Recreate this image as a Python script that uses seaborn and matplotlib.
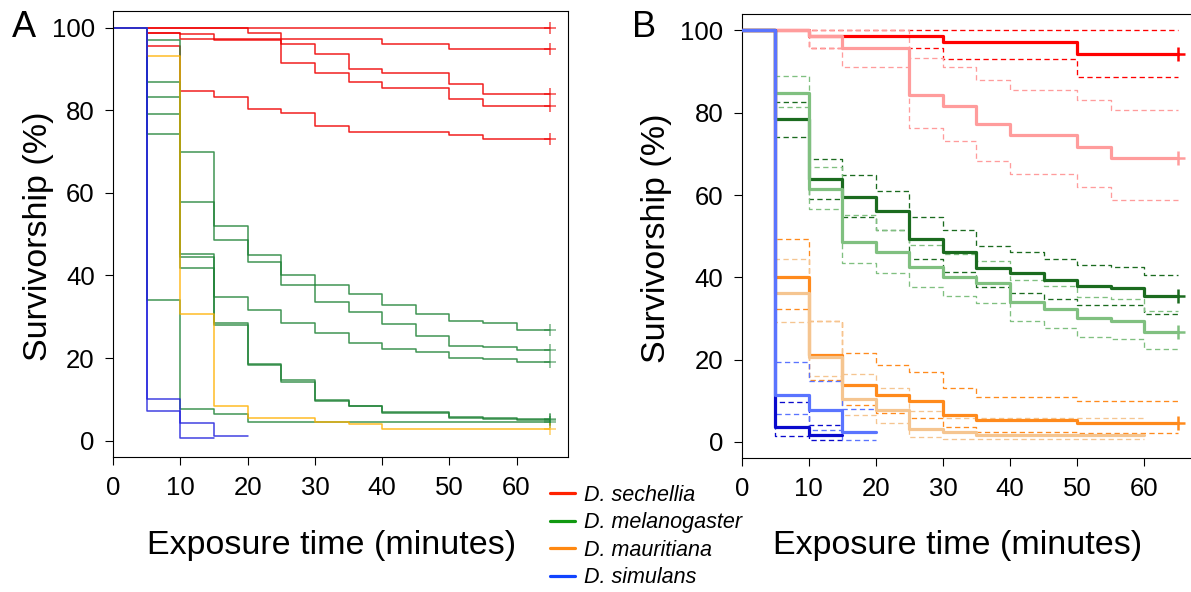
import matplotlib
matplotlib.use("Agg")
import matplotlib.pyplot as plt
from matplotlib.lines import Line2D
import pandas as pd
import seaborn as sns

# exposure times (minutes) at which survivorship was scored
times = [0, 5, 10, 15, 20, 25, 30, 35, 40, 45, 50, 55, 60]

# ---- panel A: single replicates, survivorship (%) at each time ----
sech_reps = [
    [100, 100, 100, 100, 100, 100, 100, 100, 100, 100, 100, 100, 100],
    [100, 98.8, 97.3, 97.3, 97.3, 97.3, 97.3, 97.3, 96.1, 96.1, 94.9, 94.9, 94.9],
    [100, 100, 100, 100, 98.8, 96.1, 93.7, 89.9, 89.0, 89.0, 86.3, 83.9, 83.9],
    [100, 98.8, 98.4, 97.1, 97.1, 91.3, 89.0, 86.8, 85.4, 85.4, 82.6, 81.0, 81.0],
    [100, 95.5, 84.7, 83.1, 80.2, 79.2, 76.1, 74.7, 74.7, 74.7, 73.9, 73.1, 73.1],
]
mel_reps = [
    [100, 96.9, 69.8, 52.0, 44.9, 40.2, 37.8, 35.5, 32.8, 30.8, 29.0, 28.6, 26.8],
    [100, 86.8, 57.7, 48.5, 43.3, 37.7, 33.6, 31.2, 28.2, 25.3, 22.9, 22.6, 21.9],
    [100, 83.1, 45.3, 34.7, 31.6, 28.6, 26.2, 23.6, 22.1, 21.5, 20.1, 19.7, 19.1],
    [100, 79.0, 44.4, 28.4, 18.7, 14.7, 9.8, 8.5, 7.0, 7.0, 5.8, 5.4, 5.2],
    [100, 74.2, 41.9, 28.0, 18.3, 14.3, 9.6, 8.3, 6.8, 6.8, 5.6, 5.2, 5.0],
    [100, 34.0, 7.8, 6.5, 4.6, 4.6, 4.6, 4.6, 4.6, 4.6, 4.6, 4.6, 4.6],
]
maur_reps = [
    [100, 93.0, 30.8, 8.4, 5.4, 5.4, 4.6, 4.0, 2.8, 2.8, 2.8, 2.8, 2.8],
]
sim_reps = [
    [100, 10.0, 4.4, 1.1],
    [100, 7.3, 0.6],
]
sim_rep_ends = [20, 15]

# ---- panel B: pooled curves with 95% CI (dark and light strain of each species) ----
sech_dark = [100, 100, 98.6, 98.6, 98.6, 98.6, 97.2, 97.2, 97.2, 97.2, 94.2, 94.2, 94.2]
sech_dark_hi = [100, 100, 100, 100, 100, 100, 100, 100, 100, 100, 100, 100, 100]
sech_dark_lo = [100, 100, 95.8, 95.8, 95.8, 95.8, 93.1, 93.1, 93.1, 93.1, 88.7, 88.7, 88.7]
sech_light = [100, 100, 98.6, 95.8, 95.8, 84.3, 81.6, 77.3, 74.5, 74.5, 71.7, 69.1, 69.1]
sech_light_hi = [100, 100, 100, 100, 100, 93.4, 91.2, 87.9, 85.5, 85.5, 83.1, 80.6, 80.6]
sech_light_lo = [100, 100, 95.8, 91.2, 91.2, 76.4, 73.1, 68.3, 65.0, 65.0, 61.9, 58.8, 58.8]

mel_dark = [100, 78.5, 63.8, 59.6, 56.0, 49.4, 46.2, 42.2, 41.0, 39.3, 37.9, 37.3, 35.5]
mel_dark_hi = [100, 82.6, 68.8, 64.8, 61.1, 54.7, 51.5, 47.5, 46.1, 44.5, 42.9, 42.5, 40.5]
mel_dark_lo = [100, 74.2, 59.1, 54.6, 51.5, 44.5, 41.4, 37.6, 36.3, 34.7, 33.2, 33.2, 31.0]
mel_light = [100, 84.9, 61.5, 48.6, 46.2, 42.4, 40.1, 38.5, 34.0, 32.2, 30.0, 29.4, 26.7]
mel_light_hi = [100, 88.9, 66.9, 55.1, 51.5, 47.8, 45.6, 44.0, 39.3, 37.9, 35.3, 34.7, 31.8]
mel_light_lo = [100, 81.5, 56.5, 43.6, 41.1, 37.7, 35.5, 33.7, 29.4, 27.8, 25.6, 24.9, 22.5]

maur_dark = [100, 40.1, 21.1, 13.8, 11.4, 10.0, 6.6, 5.3, 5.3, 5.3, 4.5, 4.5, 4.5]
maur_dark_hi = [100, 49.4, 29.4, 21.5, 18.7, 16.9, 13.0, 10.9, 10.9, 10.9, 10.0, 10.0, 10.0]
maur_dark_lo = [100, 32.2, 15.0, 8.9, 7.1, 5.8, 3.5, 2.5, 2.5, 2.5, 2.1, 2.1, 2.1]
maur_light = [100, 36.1, 20.6, 10.4, 7.8, 3.1, 2.3, 1.6, 1.6, 1.6, 1.6, 1.6]
maur_light_hi = [100, 44.5, 29.4, 16.4, 13.2, 7.5, 5.8, 5.7, 5.7, 5.7, 5.7, 5.7]
maur_light_lo = [100, 29.1, 15.9, 6.5, 4.5, 1.3, 0.7, 0.7, 0.7, 0.7, 0.7, 0.7]

sim_dark = [100, 3.6, 1.6]
sim_dark_hi = [100, 9.8, 4.1]
sim_dark_lo = [100, 1.5, 0.5]
sim_light = [100, 11.3, 7.8, 2.3]
sim_light_hi = [100, 19.3, 14.8, 7.9]
sim_light_lo = [100, 6.7, 3.0, 0.5]

species = ["D. sechellia", "D. melanogaster", "D. mauritiana", "D. simulans"]
legend_colors = ["#ff2200", "#119911", "#ff8811", "#1144ff"]


def step_line(ax, vals, end, color, lw, alpha=1.0, ls="-", z=2):
    t = times[:len(vals)] + [end]
    v = list(vals) + [vals[-1]]
    df = pd.DataFrame({"time": t, "surv": v})
    sns.lineplot(data=df, x="time", y="surv", ax=ax, color=color, linewidth=lw,
                 alpha=alpha, linestyle=ls, drawstyle="steps-post",
                 estimator=None, zorder=z)


def censor(ax, val, color, alpha=1.0, size=90, lw=1.3):
    sns.scatterplot(x=[65], y=[val], ax=ax, marker="+", s=size, color=color,
                    alpha=alpha, linewidth=lw, zorder=5)


sns.set_style("ticks")
plt.rcParams["font.family"] = ["Liberation Sans", "DejaVu Sans"]
plt.rcParams["text.color"] = "black"
plt.rcParams["axes.labelcolor"] = "black"
plt.rcParams["xtick.color"] = "black"
plt.rcParams["ytick.color"] = "black"

fig = plt.figure(figsize=(11.91, 5.92), dpi=100)
axA = fig.add_axes([0.0951, 0.2275, 0.3815, 0.7539])
axB = fig.add_axes([0.6228, 0.2258, 0.3806, 0.7505])

# panel A
red_a, green_a, orange_a, blue_a = "#f00000", "#1e8236", "#ffb000", "#2020dd"
for vals in sech_reps:
    step_line(axA, vals, 65, red_a, 1.1, alpha=0.88)
    censor(axA, vals[-1], red_a, alpha=0.7, size=80, lw=1.1)
for vals in mel_reps:
    step_line(axA, vals, 65, green_a, 1.1, alpha=0.85)
    censor(axA, vals[-1], green_a, alpha=0.6, size=80, lw=1.1)
for vals in maur_reps:
    step_line(axA, vals, 65, orange_a, 1.1, alpha=0.85)
    censor(axA, vals[-1], orange_a, alpha=0.6, size=80, lw=1.1)
for vals, end in zip(sim_reps, sim_rep_ends):
    step_line(axA, vals, end, blue_a, 1.1, alpha=0.85)

# panel B: CI dashes first, then the pooled curves
dash = (0, (4, 2.6))
groups = [
    (sech_dark, sech_dark_hi, sech_dark_lo, 65, "#ff0000", True),
    (sech_light, sech_light_hi, sech_light_lo, 65, "#ff9c9c", True),
    (mel_dark, mel_dark_hi, mel_dark_lo, 65, "#1b6b1f", True),
    (mel_light, mel_light_hi, mel_light_lo, 65, "#80c080", True),
    (maur_dark, maur_dark_hi, maur_dark_lo, 65, "#ff8a1c", True),
    (maur_light, maur_light_hi, maur_light_lo, 60, "#f5c590", False),
    (sim_dark, sim_dark_hi, sim_dark_lo, 15, "#0a0acd", False),
    (sim_light, sim_light_hi, sim_light_lo, 20, "#5a74ff", False),
]
for est, hi, lo, end, col, alive in groups:
    step_line(axB, hi, end, col, 0.95, ls=dash, z=2)
    step_line(axB, lo, end, col, 0.95, ls=dash, z=2)
for est, hi, lo, end, col, alive in groups:
    step_line(axB, est, end, col, 2.3, z=3)
    if alive:
        censor(axB, est[-1], col, size=110, lw=1.8)

for ax in (axA, axB):
    ax.set_xlim(0, 67.6)
    ax.set_ylim(-4, 104)
    ax.set_xticks([0, 10, 20, 30, 40, 50, 60])
    ax.set_yticks([0, 20, 40, 60, 80, 100])
    ax.set(xlabel="", ylabel="")
    ax.tick_params(direction="out", length=5.8, width=0.8, color="black",
                   labelcolor="black", labelsize=18.5, pad=7.5)
    for sp in ax.spines.values():
        sp.set_color("black")
        sp.set_linewidth(0.8)

fig.text(24 / 1191, 1 - 37 / 592, "A", fontsize=26, ha="center", va="baseline")
fig.text(644 / 1191, 1 - 37 / 592, "B", fontsize=26, ha="center", va="baseline")
fig.text(39 / 1191, 1 - 236 / 592, "Survivorship (%)", fontsize=24.5,
         rotation=90, ha="center", va="center")
fig.text(656 / 1191, 1 - 238 / 592, "Survivorship (%)", fontsize=24.5,
         rotation=90, ha="center", va="center")
fig.text(332 / 1191, 1 - 554 / 592, "Exposure time (minutes)", fontsize=24.5,
         ha="center", va="baseline")
fig.text(958 / 1191, 1 - 554 / 592, "Exposure time (minutes)", fontsize=24.5,
         ha="center", va="baseline")

handles = [Line2D([0], [0], color=c, lw=2.3) for c in legend_colors]
fig.legend(handles, species, loc="upper left", bbox_to_anchor=(550 / 1191, 1 - 485 / 592),
           frameon=False, prop={"style": "italic", "size": 15.5}, handlelength=1.16,
           handletextpad=0.4, labelspacing=0.3, borderpad=0, borderaxespad=0)

fig.savefig("out.png", dpi=100)
